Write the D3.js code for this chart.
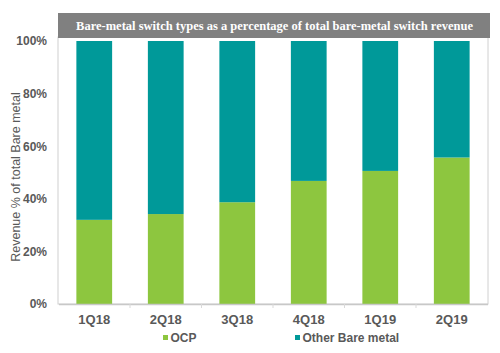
<!DOCTYPE html>
<html><head><meta charset="utf-8">
<script src="https://cdn.jsdelivr.net/npm/d3@7"></script>
<style>body{margin:0;background:#fff}svg{display:block}</style>
</head><body>
<script>
const categories = ["1Q18","2Q18","3Q18","4Q18","1Q19","2Q19"];
const ocp = [32, 34.2, 38.7, 46.8, 50.6, 55.7];
const other = ocp.map(v => 100 - v);
const seriesNames = ["OCP","Other Bare metal"];
const colors = ["#8dc63f","#009999"];
const yTicks = [0,20,40,60,80,100];

const W = 500, H = 353;
const svg = d3.select("body").append("svg").attr("width",W).attr("height",H);
const x = d3.scaleBand().domain(categories).range([58.5,487.5]).paddingInner(0.5).paddingOuter(0.25);
const y = d3.scaleLinear().domain([0,100]).range([304,41]);

// frame
svg.append("rect").attr("x",58).attr("y",37).attr("width",430).attr("height",267)
  .attr("fill","none").attr("stroke","#d0d0d0").attr("stroke-width",1);

// title
svg.append("rect").attr("x",58).attr("y",13).attr("width",432).attr("height",25).attr("fill","#808080");
svg.append("text").attr("x",274.5).attr("y",30).attr("text-anchor","middle")
  .attr("font-family","Liberation Serif, DejaVu Serif, serif").attr("font-weight","bold")
  .attr("font-size",12.5).attr("fill","#fff")
  .text("Bare-metal switch types as a percentage of total bare-metal switch revenue");

const data = categories.map((c,i)=>({cat:c, OCP:ocp[i], "Other Bare metal":other[i]}));
const stack = d3.stack().keys(seriesNames)(data);
svg.append("g").selectAll("g").data(stack).join("g").attr("fill",(d,i)=>colors[i])
  .selectAll("rect").data(d=>d).join("rect")
  .attr("x",d=>x(d.data.cat)).attr("width",x.bandwidth())
  .attr("y",d=>y(d[1])).attr("height",d=>y(d[0])-y(d[1]));

// y axis
const ya = svg.append("g").attr("transform","translate(58,0)")
  .call(d3.axisLeft(y).tickValues(yTicks).tickFormat(d=>d+"%").tickSize(0).tickPadding(11));
ya.select(".domain").remove();
ya.selectAll("text").attr("font-family","Liberation Sans, Arial, sans-serif").attr("font-weight","bold")
  .attr("font-size",12).attr("fill","#595959");

// x axis
const xa = svg.append("g").attr("transform","translate(0,304)")
  .call(d3.axisBottom(x).tickSize(0).tickPadding(11));
xa.select(".domain").attr("stroke","#c8c8c8").attr("stroke-width",1.5);
xa.selectAll("text").attr("font-family","Liberation Sans, Arial, sans-serif").attr("font-weight","bold")
  .attr("font-size",13).attr("fill","#595959");
// category separator ticks
svg.append("g").selectAll("line").data(categories.slice(0,-1)).join("line")
  .attr("x1",c=>x(c)+x.bandwidth()+ (x.step()-x.bandwidth())/2)
  .attr("x2",c=>x(c)+x.bandwidth()+ (x.step()-x.bandwidth())/2)
  .attr("y1",304).attr("y2",308).attr("stroke","#d9d9d9");

// y title
svg.append("text").attr("transform","translate(20,177) rotate(-90)").attr("text-anchor","middle")
  .attr("font-family","Liberation Sans, Arial, sans-serif").attr("font-size",12.5).attr("fill","#595959")
  .text("Revenue % of total Bare metal");

// legend
const lg = svg.append("g").selectAll("g").data(seriesNames).join("g")
  .attr("transform",(d,i)=>`translate(${[163,295][i]},0)`);
lg.append("rect").attr("x",0).attr("y",335).attr("width",5).attr("height",5).attr("fill",(d,i)=>colors[i]);
lg.append("text").attr("x",7.5).attr("y",342).attr("font-family","Liberation Sans, Arial, sans-serif")
  .attr("font-weight","bold").attr("font-size",12).attr("fill","#595959").text(d=>d);
</script>
</body></html>
